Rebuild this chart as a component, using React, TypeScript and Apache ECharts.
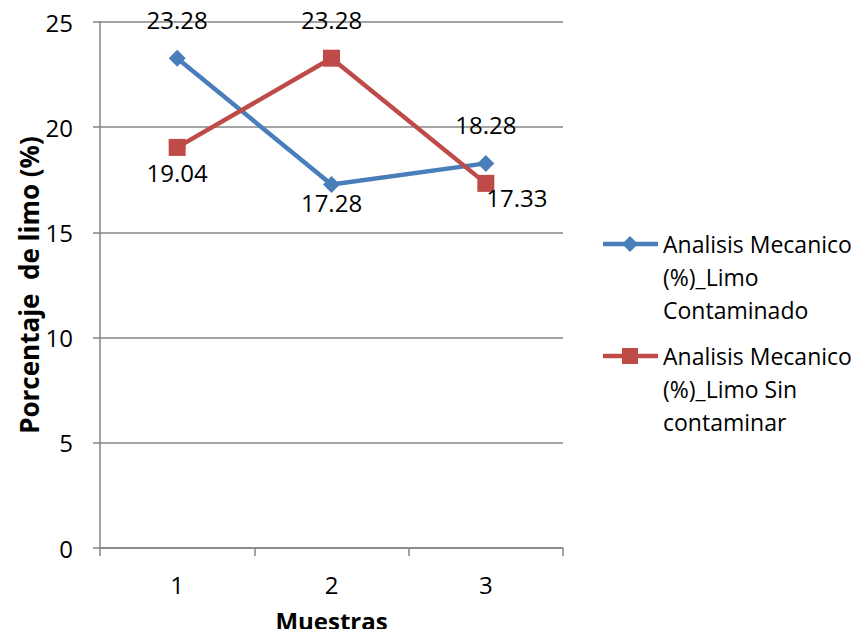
import React, { useEffect, useRef } from "react";
import * as echarts from "echarts";

const categories = ["1", "2", "3"];
const contaminado = [23.28, 17.28, 18.28];
const sinContaminar = [19.04, 23.28, 17.33];
const seriesNames = [
  "Analisis Mecanico (%)_Limo Contaminado",
  "Analisis Mecanico (%)_Limo Sin contaminar",
];
const legendLines = [
  ["Analisis Mecanico", "(%)_Limo", "Contaminado"],
  ["Analisis Mecanico", "(%)_Limo Sin", "contaminar"],
];

// value label placement per point: [position, distance, xOffset]
const contaminadoLabels: [string, number, number][] = [
  ["top", 18, 0],
  ["bottom", -2, 0],
  ["top", 18, 0],
];
const sinContaminarLabels: [string, number, number][] = [
  ["bottom", 5, 0],
  ["top", 18, 0],
  ["bottom", -6, 31],
];

const BLUE = "#4A7EBB";
const RED = "#BE4B48";
const FONT = "'Open Sans', sans-serif";
const FS = 24;
const LEGEND_FS = 23;

function labelFor(p: [string, number, number]) {
  return { show: true, position: p[0], distance: p[1], offset: [p[2], 0] };
}

export default function App() {
  const ref = useRef<HTMLDivElement>(null);
  useEffect(() => {
    if (!ref.current) return;
    const chart = echarts.init(ref.current, null, { renderer: "svg" });
    const legendGraphic: any[] = [];
    const legendY = [244, 356];
    const colors = [BLUE, RED];
    legendY.forEach((y, i) => {
      legendGraphic.push({
        type: "line",
        shape: { x1: 603, y1: y, x2: 658, y2: y },
        style: { stroke: colors[i], lineWidth: 4.5 },
      });
      if (i === 0) {
        legendGraphic.push({
          type: "polygon",
          shape: { points: [[630, y - 8], [638, y], [630, y + 8], [622, y]] },
          style: { fill: BLUE },
        });
      } else {
        legendGraphic.push({
          type: "rect",
          shape: { x: 622, y: y - 8, width: 16, height: 16 },
          style: { fill: RED },
        });
      }
      legendLines[i].forEach((t, j) => {
        legendGraphic.push({
          type: "text",
          x: 663,
          y: y + j * 33,
          style: {
            text: t,
            fill: "#000",
            font: `${LEGEND_FS}px ${FONT}`,
            verticalAlign: "middle",
            align: "left",
          },
        });
      });
    });

    chart.setOption({
      animation: false,
      backgroundColor: "#fff",
      textStyle: { fontFamily: FONT },
      grid: { left: 100, top: 22, right: 296, bottom: 89, outerBoundsMode: "none" },
      xAxis: {
        type: "category",
        data: categories,
        boundaryGap: true,
        name: "Muestras",
        nameLocation: "middle",
        nameGap: 60,
        nameMoveOverlap: false,
        nameTextStyle: { fontSize: 24, fontWeight: "bold", color: "#000", fontFamily: FONT },
        axisLine: { lineStyle: { color: "#868686", width: 1.5 } },
        axisTick: { show: true, length: 8, lineStyle: { color: "#868686", width: 1.5 } },
        axisLabel: { fontSize: FS, color: "#000", margin: 24, fontFamily: FONT },
      },
      yAxis: {
        type: "value",
        min: 0,
        max: 25,
        interval: 5,
        name: "Porcentaje  de limo (%)",
        nameLocation: "middle",
        nameGap: 58,
        nameMoveOverlap: false,
        nameTextStyle: { fontSize: 26, fontWeight: "bold", color: "#000", fontFamily: FONT },
        axisLine: { show: true, lineStyle: { color: "#868686", width: 1.5 } },
        axisTick: { show: true, length: 7, lineStyle: { color: "#868686", width: 1.5 } },
        axisLabel: { fontSize: FS, color: "#000", margin: 27, fontFamily: FONT },
        splitLine: { lineStyle: { color: "#868686", width: 1.5 } },
      },
      series: [
        {
          name: seriesNames[0],
          type: "line",
          data: contaminado.map((v, i) => ({ value: v, label: labelFor(contaminadoLabels[i]) })),
          symbol: "diamond",
          symbolSize: 17,
          lineStyle: { color: BLUE, width: 4.5 },
          itemStyle: { color: BLUE },
          label: { color: "#000", fontSize: FS, fontFamily: FONT },
          z: 3,
        },
        {
          name: seriesNames[1],
          type: "line",
          data: sinContaminar.map((v, i) => ({ value: v, label: labelFor(sinContaminarLabels[i]) })),
          symbol: "rect",
          symbolSize: 17,
          lineStyle: { color: RED, width: 4.5 },
          itemStyle: { color: RED },
          label: { color: "#000", fontSize: FS, fontFamily: FONT },
          z: 4,
        },
      ],
      graphic: legendGraphic,
    });
    return () => chart.dispose();
  }, []);
  return <div ref={ref} style={{ width: 859, height: 637, margin: -8 }} />;
}
